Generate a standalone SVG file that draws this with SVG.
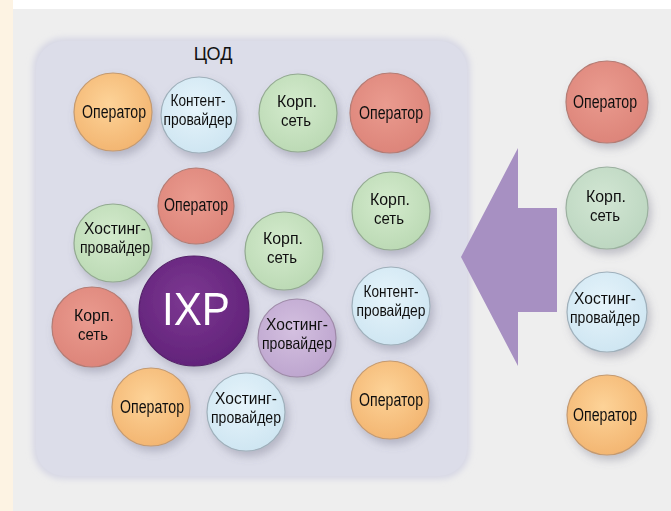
<svg xmlns="http://www.w3.org/2000/svg" width="671" height="511" viewBox="0 0 671 511">
  <defs>
    <style>
      .lbl { font-family: "Liberation Sans Narrow", "Liberation Sans", Arial, sans-serif; font-size: 18px; fill: #111; text-anchor: middle; }
      .lbl2 { font-family: "Liberation Sans Narrow", "Liberation Sans", Arial, sans-serif; font-size: 16.5px; fill: #111; text-anchor: middle; }
      .title { font-family: "Liberation Sans", Arial, sans-serif; font-size: 18px; fill: #111; text-anchor: middle; }
      .ixp { font-family: "Liberation Sans", Arial, sans-serif; font-size: 46px; fill: #ffffff; text-anchor: middle; }
      .orange { fill: url(#gOrange); stroke: #c49a70; stroke-width: 1.2; }
      .blue { fill: url(#gBlue); stroke: #9fb0bb; stroke-width: 1.2; }
      .green { fill: url(#gGreen); stroke: #93aa91; stroke-width: 1.2; }
      .red { fill: url(#gRed); stroke: #b47c74; stroke-width: 1.2; }
      .lilac { fill: url(#gLilac); stroke: #9e8aa8; stroke-width: 1.2; }
      .sage { fill: url(#gSage); stroke: #9bb09f; stroke-width: 1.2; }
      .node { filter: url(#shadow); }
    </style>
    <filter id="shadow" x="-40%" y="-40%" width="190%" height="190%">
      <feDropShadow dx="3" dy="5" stdDeviation="4" flood-color="#6b6b80" flood-opacity="0.35"/>
    </filter>
    <filter id="soft" x="-10%" y="-10%" width="120%" height="120%">
      <feGaussianBlur stdDeviation="3"/>
    </filter>
    <radialGradient id="gOrange" cx="45%" cy="40%" r="60%">
      <stop offset="0" stop-color="#fdd398"/>
      <stop offset="1" stop-color="#f3b672"/>
    </radialGradient>
    <radialGradient id="gBlue" cx="45%" cy="40%" r="60%">
      <stop offset="0" stop-color="#e6f4fb"/>
      <stop offset="1" stop-color="#cfe6f2"/>
    </radialGradient>
    <radialGradient id="gGreen" cx="45%" cy="40%" r="60%">
      <stop offset="0" stop-color="#d4ebcd"/>
      <stop offset="1" stop-color="#bcdab5"/>
    </radialGradient>
    <radialGradient id="gRed" cx="45%" cy="40%" r="60%">
      <stop offset="0" stop-color="#ea9b8f"/>
      <stop offset="1" stop-color="#dd857a"/>
    </radialGradient>
    <radialGradient id="gLilac" cx="45%" cy="40%" r="60%">
      <stop offset="0" stop-color="#d4c0e0"/>
      <stop offset="1" stop-color="#bea6cf"/>
    </radialGradient>
    <radialGradient id="gSage" cx="45%" cy="40%" r="60%">
      <stop offset="0" stop-color="#d2e6d3"/>
      <stop offset="1" stop-color="#bdd7c1"/>
    </radialGradient>
    <radialGradient id="gIxp" cx="45%" cy="40%" r="60%">
      <stop offset="0" stop-color="#7d3892"/>
      <stop offset="1" stop-color="#62237a"/>
    </radialGradient>
  </defs>

  <!-- page background -->
  <rect x="0" y="0" width="671" height="511" fill="#eeeeee"/>
  <rect x="0" y="0" width="671" height="9" fill="#ffffff"/>
  <rect x="0" y="0" width="13" height="511" fill="#fdf3e3"/>

  <!-- data centre area -->
  <g id="dc">
    <rect x="33" y="38" width="437" height="441" rx="30" fill="#d5d6e4" filter="url(#soft)"/>
    <rect x="36" y="41" width="431" height="435" rx="28" fill="#dcdde9"/>
    <text class="title" x="213" y="60">ЦОД</text>
  </g>

  <!-- inflow arrow -->
  <g id="arrow">
    <polygon points="461,257 518,148 518,208 557,208 557,312 518,312 518,366" fill="#a790c2"/>
  </g>

  <g id="connectors"/>

  <!-- nodes inside the data centre -->
  <g id="n1" class="node">
    <circle class="orange" cx="113" cy="112" r="39"/>
    <text class="lbl" x="114" y="118" textLength="64" lengthAdjust="spacingAndGlyphs">Оператор</text>
  </g>
  <g id="n2" class="node">
    <circle class="blue" cx="199" cy="115" r="38"/>
    <text class="lbl2" x="198" y="106" textLength="55" lengthAdjust="spacingAndGlyphs">Контент-</text>
    <text class="lbl2" x="198" y="124.5" textLength="69" lengthAdjust="spacingAndGlyphs">провайдер</text>
  </g>
  <g id="n3" class="node">
    <circle class="green" cx="298" cy="113" r="39"/>
    <text class="lbl2" x="297" y="107" textLength="40" lengthAdjust="spacingAndGlyphs">Корп.</text>
    <text class="lbl2" x="296" y="125.5" textLength="30" lengthAdjust="spacingAndGlyphs">сеть</text>
  </g>
  <g id="n4" class="node">
    <circle class="red" cx="390" cy="113" r="40"/>
    <text class="lbl" x="391" y="119" textLength="64" lengthAdjust="spacingAndGlyphs">Оператор</text>
  </g>
  <g id="n5" class="node">
    <circle class="red" cx="196" cy="206" r="38"/>
    <text class="lbl" x="196" y="211" textLength="64" lengthAdjust="spacingAndGlyphs">Оператор</text>
  </g>
  <g id="n6" class="node">
    <circle class="green" cx="113" cy="243" r="39"/>
    <text class="lbl2" x="115" y="234" textLength="62" lengthAdjust="spacingAndGlyphs">Хостинг-</text>
    <text class="lbl2" x="115" y="252.5" textLength="70" lengthAdjust="spacingAndGlyphs">провайдер</text>
  </g>
  <g id="n7" class="node">
    <circle class="red" cx="92" cy="327" r="40"/>
    <text class="lbl2" x="94" y="321" textLength="40" lengthAdjust="spacingAndGlyphs">Корп.</text>
    <text class="lbl2" x="93" y="339.5" textLength="30" lengthAdjust="spacingAndGlyphs">сеть</text>
  </g>
  <g id="ixp" class="node">
    <circle cx="194" cy="311" r="55" fill="url(#gIxp)" stroke="#55206a" stroke-width="1.2"/>
    <text class="ixp" x="196" y="325" textLength="68" lengthAdjust="spacingAndGlyphs">IXP</text>
  </g>
  <g id="n9" class="node">
    <circle class="green" cx="284" cy="251" r="39"/>
    <text class="lbl2" x="283" y="244" textLength="40" lengthAdjust="spacingAndGlyphs">Корп.</text>
    <text class="lbl2" x="282" y="262.5" textLength="30" lengthAdjust="spacingAndGlyphs">сеть</text>
  </g>
  <g id="n10" class="node">
    <circle class="green" cx="391" cy="211" r="39"/>
    <text class="lbl2" x="390" y="205" textLength="40" lengthAdjust="spacingAndGlyphs">Корп.</text>
    <text class="lbl2" x="389" y="223.5" textLength="30" lengthAdjust="spacingAndGlyphs">сеть</text>
  </g>
  <g id="n11" class="node">
    <circle class="blue" cx="391" cy="306" r="39"/>
    <text class="lbl2" x="391" y="297" textLength="55" lengthAdjust="spacingAndGlyphs">Контент-</text>
    <text class="lbl2" x="391" y="315.5" textLength="69" lengthAdjust="spacingAndGlyphs">провайдер</text>
  </g>
  <g id="n12" class="node">
    <circle class="lilac" cx="297" cy="338" r="39"/>
    <text class="lbl2" x="297" y="330" textLength="62" lengthAdjust="spacingAndGlyphs">Хостинг-</text>
    <text class="lbl2" x="297" y="348.5" textLength="70" lengthAdjust="spacingAndGlyphs">провайдер</text>
  </g>
  <g id="n13" class="node">
    <circle class="orange" cx="151" cy="407" r="39"/>
    <text class="lbl" x="152" y="413" textLength="64" lengthAdjust="spacingAndGlyphs">Оператор</text>
  </g>
  <g id="n14" class="node">
    <circle class="blue" cx="246" cy="412" r="39"/>
    <text class="lbl2" x="246" y="404" textLength="62" lengthAdjust="spacingAndGlyphs">Хостинг-</text>
    <text class="lbl2" x="246" y="422.5" textLength="70" lengthAdjust="spacingAndGlyphs">провайдер</text>
  </g>
  <g id="n15" class="node">
    <circle class="orange" cx="390" cy="400" r="39"/>
    <text class="lbl" x="391" y="406" textLength="64" lengthAdjust="spacingAndGlyphs">Оператор</text>
  </g>

  <!-- nodes outside, moving in -->
  <g id="r1" class="node">
    <circle class="red" cx="607" cy="102" r="41"/>
    <text class="lbl" x="605" y="108" textLength="64" lengthAdjust="spacingAndGlyphs">Оператор</text>
  </g>
  <g id="r2" class="node">
    <circle class="sage" cx="607" cy="208" r="41"/>
    <text class="lbl2" x="606" y="202" textLength="40" lengthAdjust="spacingAndGlyphs">Корп.</text>
    <text class="lbl2" x="605" y="220.5" textLength="30" lengthAdjust="spacingAndGlyphs">сеть</text>
  </g>
  <g id="r3" class="node">
    <circle class="blue" cx="607" cy="312" r="40"/>
    <text class="lbl2" x="605" y="304" textLength="62" lengthAdjust="spacingAndGlyphs">Хостинг-</text>
    <text class="lbl2" x="605" y="322.5" textLength="70" lengthAdjust="spacingAndGlyphs">провайдер</text>
  </g>
  <g id="r4" class="node">
    <circle class="orange" cx="607" cy="415" r="40"/>
    <text class="lbl" x="605" y="421" textLength="64" lengthAdjust="spacingAndGlyphs">Оператор</text>
  </g>
</svg>
